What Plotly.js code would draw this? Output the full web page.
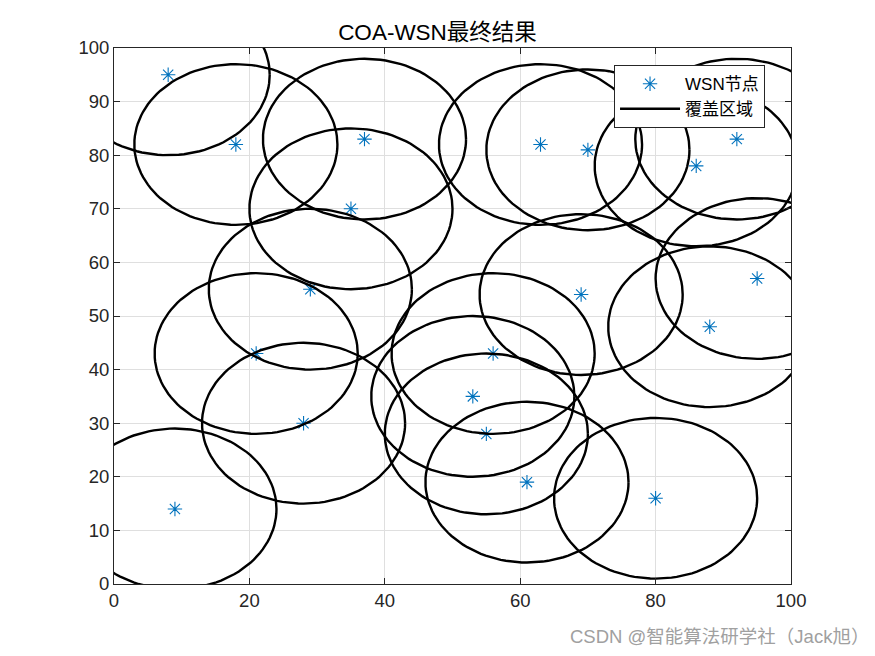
<!DOCTYPE html>
<html>
<head>
<meta charset="utf-8">
<script src="https://cdn.plot.ly/plotly-3.0.1.min.js"></script>
<style>html,body{margin:0;padding:0;background:#fff;}#chart{width:875px;height:656px;}</style>
</head>
<body>
<div id="chart"></div>
<script>
// WSN node positions (final COA result)
const nodeX = [8, 18, 37, 35, 29, 21, 28, 9, 63, 70, 86, 92, 69, 88, 95, 53, 56, 55, 61, 80];
const nodeY = [95, 82, 83, 70, 55, 43, 30, 14, 82, 81, 78, 83, 54, 48, 57, 35, 43, 28, 19, 16];
const coverRadius = 15;
const xTicks = [0, 20, 40, 60, 80, 100];
const yTicks = [0, 10, 20, 30, 40, 50, 60, 70, 80, 90, 100];

// Build coverage circle outlines from node centers and radius
const cx = [], cy = [];
const nSeg = 120;
for (let i = 0; i < nodeX.length; i++) {
  for (let k = 0; k <= nSeg; k++) {
    const t = 2 * Math.PI * k / nSeg;
    cx.push(nodeX[i] + coverRadius * Math.cos(t));
    cy.push(nodeY[i] + coverRadius * Math.sin(t));
  }
  cx.push(null); cy.push(null);
}

const fontFam = '"Liberation Sans", Arial, "Noto Sans CJK SC", sans-serif';

const traces = [
  {
    x: nodeX, y: nodeY, type: 'scatter', mode: 'markers', name: 'WSN节点',
    marker: {symbol: 'asterisk-open', size: 12, color: '#0072BD', line: {color: '#0072BD', width: 1.1}}
  },
  {
    x: cx, y: cy, type: 'scatter', mode: 'lines', name: '覆盖区域',
    line: {color: '#000000', width: 2.4}, connectgaps: false
  }
];

const axisCommon = {
  range: [0, 100], autorange: false, fixedrange: true,
  showgrid: true, gridcolor: '#dfdfdf', gridwidth: 1,
  zeroline: false, showline: true, linecolor: '#262626', linewidth: 1,
  mirror: 'ticks', ticks: 'inside', ticklen: 6, tickcolor: '#262626', tickwidth: 1,
  tickfont: {family: fontFam, size: 18.5, color: '#262626'}
};

const layout = {
  width: 875, height: 656,
  margin: {l: 114, r: 84, t: 48, b: 72},
  paper_bgcolor: '#ffffff', plot_bgcolor: '#ffffff',
  title: {text: 'COA-WSN最终结果', x: 0.5, xanchor: 'center', y: 0.951, yanchor: 'middle',
          font: {family: fontFam, size: 22.5, color: '#000000'}},
  xaxis: Object.assign({}, axisCommon, {tickvals: xTicks, ticktext: xTicks.map(String)}),
  yaxis: Object.assign({}, axisCommon, {tickvals: yTicks, ticktext: yTicks.map(String)}),
  showlegend: true,
  legend: {
    x: 0.7386, y: 0.968, xanchor: 'left', yanchor: 'top',
    bgcolor: '#ffffff', bordercolor: '#262626', borderwidth: 1,
    font: {family: fontFam, size: 17, color: '#000000'},
    itemwidth: 60, tracegroupgap: 0
  },
  annotations: [{
    text: 'CSDN @智能算法研学社（Jack旭）', xref: 'paper', yref: 'paper',
    x: 1.118, y: -0.098, xanchor: 'right', yanchor: 'middle', showarrow: false,
    font: {family: fontFam, size: 18.5, color: '#a0a0a0'}
  }]
};

Plotly.newPlot('chart', traces, layout, {displayModeBar: false, staticPlot: true});
</script>
</body>
</html>
